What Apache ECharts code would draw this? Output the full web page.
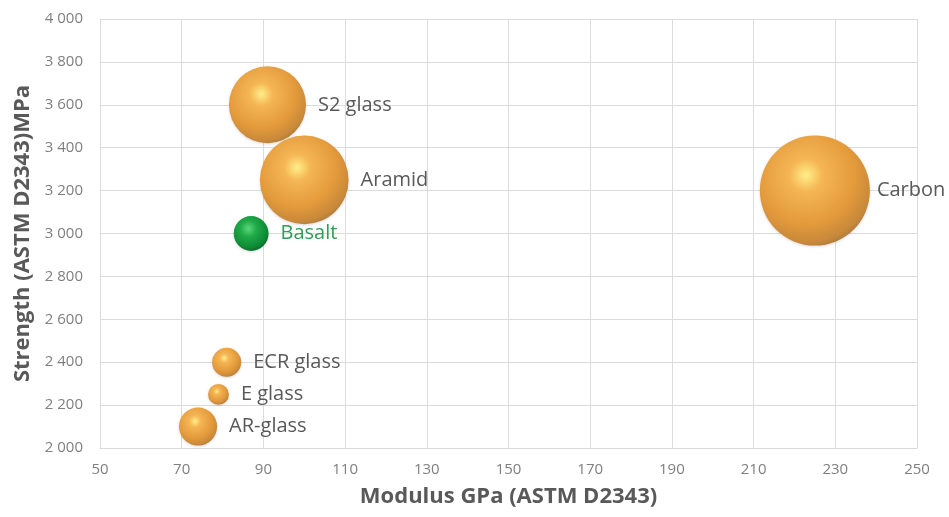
<!DOCTYPE html>
<html>
<head>
<meta charset="utf-8">
<script src="https://cdn.jsdelivr.net/npm/echarts@6/dist/echarts.min.js"></script>
<style>html,body{margin:0;padding:0;background:#fff}#c{width:949px;height:517px}</style>
</head>
<body>
<div id="c"></div>
<script>
const materials = ['S2 glass', 'Aramid', 'Carbon', 'Basalt', 'ECR glass', 'E glass', 'AR-glass'];
const modulus = [91, 100, 225, 87, 81, 79, 74];
const strength = [3600, 3250, 3200, 3000, 2400, 2250, 2100];
const bubbleValue = [49, 65, 100, 10, 7, 3.6, 12];
const xTicks = [50, 70, 90, 110, 130, 150, 170, 190, 210, 230, 250];
const yTicks = [2000, 2200, 2400, 2600, 2800, 3000, 3200, 3400, 3600, 3800, 4000];

const FONT = '"Open Sans", "Noto Sans", sans-serif';
const orangeGrad = {
  type: 'radial', x: 0.42, y: 0.36, r: 0.68,
  colorStops: [
    { offset: 0, color: '#FFEE88' },
    { offset: 0.22, color: '#F5B655' },
    { offset: 0.65, color: '#E39A3B' },
    { offset: 0.9, color: '#C8893A' },
    { offset: 1, color: '#A8783E' }
  ]
};
const greenGrad = {
  type: 'radial', x: 0.42, y: 0.36, r: 0.68,
  colorStops: [
    { offset: 0, color: '#5BD77A' },
    { offset: 0.35, color: '#1FAA48' },
    { offset: 0.8, color: '#0E8A35' },
    { offset: 1, color: '#08652A' }
  ]
};
const maxV = Math.max(...bubbleValue);
const data = materials.map((m, i) => {
  const isBasalt = m === 'Basalt';
  return {
    name: m,
    value: [modulus[i], strength[i], bubbleValue[i]],
    itemStyle: { color: isBasalt ? greenGrad : orangeGrad },
    label: { color: isBasalt ? '#2E9E55' : '#595959', distance: m === 'Carbon' ? 7 : 12 }
  };
});

const chart = echarts.init(document.getElementById('c'), null, { renderer: 'canvas' });
chart.setOption({
  animation: false,
  backgroundColor: '#ffffff',
  grid: { left: 100, right: 32, top: 19, bottom: 69 },
  xAxis: {
    type: 'value', min: xTicks[0], max: xTicks[xTicks.length - 1], interval: xTicks[1] - xTicks[0],
    name: 'Modulus GPa (ASTM D2343)', nameLocation: 'middle', nameGap: 38,
    nameTextStyle: { fontFamily: FONT, fontSize: 22, fontWeight: 'bold', color: '#595959' },
    axisLine: { show: true, lineStyle: { color: '#d9d9d9' } },
    axisTick: { show: false },
    axisLabel: { fontFamily: FONT, fontSize: 15, color: '#7f7f7f', margin: 14 },
    splitLine: { show: true, lineStyle: { color: '#dcdcdc' } }
  },
  yAxis: {
    type: 'value', min: yTicks[0], max: yTicks[yTicks.length - 1], interval: yTicks[1] - yTicks[0],
    name: 'Strength (ASTM D2343)MPa', nameLocation: 'middle', nameGap: 66,
    nameTextStyle: { fontFamily: FONT, fontSize: 22, fontWeight: 'bold', color: '#595959' },
    axisLine: { show: true, lineStyle: { color: '#d9d9d9' } },
    axisTick: { show: false },
    axisLabel: {
      fontFamily: FONT, fontSize: 15, color: '#7f7f7f', margin: 17,
      formatter: v => String(v).replace(/\B(?=(\d{3})+(?!\d))/g, ' ')
    },
    splitLine: { show: true, lineStyle: { color: '#dcdcdc' } }
  },
  series: [{
    type: 'scatter',
    data: data,
    symbolSize: v => 110 * Math.sqrt(v[2] / maxV),
    itemStyle: { opacity: 1, shadowBlur: 3, shadowColor: 'rgba(0,0,0,0.15)', shadowOffsetY: 1 },
    label: {
      show: true, position: 'right',
      formatter: p => p.name,
      fontFamily: FONT, fontSize: 20
    }
  }]
});
</script>
</body>
</html>
